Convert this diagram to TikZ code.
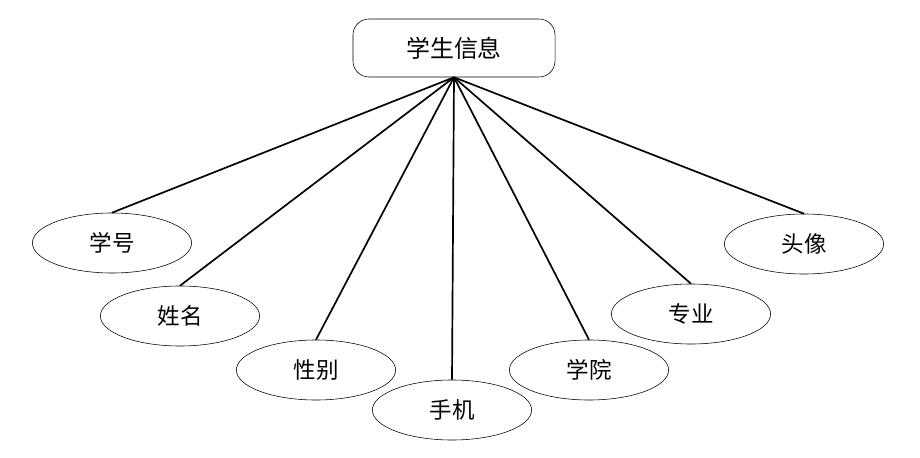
\documentclass[tikz,border=0pt]{standalone}
\usepackage{fontspec}
\usepackage{tikz}
\usetikzlibrary{shapes.geometric, positioning}
\newfontfamily\cjk{Noto Sans CJK SC}

\begin{document}
\begin{tikzpicture}[x=0.025cm, y=-0.025cm,
    entity/.style={draw, rounded corners=0.4cm, minimum width=5.05cm, minimum height=1.45cm, text centered, font=\cjk\fontsize{17}{20}\selectfont},
    attribute/.style={draw, ellipse, minimum width=3.98cm, minimum height=1.5cm, text centered, font=\cjk\fontsize{16}{19}\selectfont},
    link/.style={line width=1.2pt}
]
\useasboundingbox (0,0) rectangle (920,458);

% Entity
\node[entity] (student) at (454, 48) {学生信息};

% Attributes
\node[attribute] (number) at (112, 243) {学号};
\node[attribute] (name) at (180, 316) {姓名};
\node[attribute] (gender) at (316, 370) {性别};
\node[attribute] (phone) at (452, 410) {手机};
\node[attribute] (college) at (589, 370) {学院};
\node[attribute] (major) at (691, 314) {专业};
\node[attribute] (avatar) at (804, 244) {头像};

% Links
\draw[link] (student.south) -- (number.north);
\draw[link] (student.south) -- (name.north);
\draw[link] (student.south) -- (gender.north);
\draw[link] (student.south) -- (phone.north);
\draw[link] (student.south) -- (college.north);
\draw[link] (student.south) -- (major.north);
\draw[link] (student.south) -- (avatar.north);

\end{tikzpicture}
\end{document}
